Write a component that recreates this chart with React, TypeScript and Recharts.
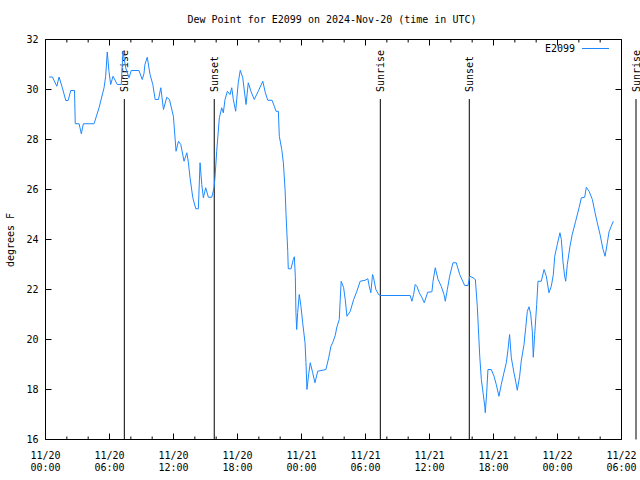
import React from "react";
import { LineChart, Line, XAxis, YAxis, ReferenceLine } from "recharts";

// hours since 2024-11-20 00:00 UTC
const hours = [
  0.34, 0.65, 1.06, 1.27, 1.58, 1.9, 2.12, 2.37, 2.72, 2.79, 3.15, 3.36, 3.55, 4.55, 5.02, 5.49, 5.64, 5.79, 5.95, 6.11,
  6.33, 6.73, 7.1, 7.26, 7.52, 7.83, 8.04, 8.76, 9.07, 9.23, 9.32, 9.54, 9.8, 10.06, 10.28, 10.59, 10.81, 11.06, 11.37, 11.62,
  11.99, 12.24, 12.46, 12.68, 12.99, 13.25, 13.4, 13.55, 13.81, 14.09, 14.33, 14.49, 14.65, 14.8, 15.02, 15.27, 15.59, 15.8, 15.89, 16.05,
  16.3, 16.52, 16.67, 16.83, 17.05, 17.3, 17.46, 17.61, 17.83, 18.07, 18.26, 18.49, 18.8, 19.01, 19.26, 19.57, 19.99, 20.37, 20.61, 20.84,
  21.24, 21.45, 21.61, 21.83, 21.92, 22.15, 22.3, 22.46, 22.55, 22.71, 22.76, 23.02, 23.23, 23.33, 23.42, 23.48, 23.55, 23.64, 23.79, 23.95,
  24.11, 24.33, 24.42, 24.51, 24.67, 24.82, 25.05, 25.26, 25.52, 26.29, 26.55, 26.76, 26.92, 27.16, 27.32, 27.54, 27.63, 27.72, 27.95, 28.1,
  28.26, 28.57, 28.89, 29.19, 29.5, 29.97, 30.22, 30.35, 30.5, 30.66, 30.76, 30.97, 31.23, 31.38, 34.19, 34.35, 34.51, 34.66, 34.82, 35.04,
  35.3, 35.51, 35.83, 36.23, 36.33, 36.54, 36.8, 37.1, 37.36, 37.48, 37.67, 37.89, 38.2, 38.51, 38.83, 39.3, 39.61, 39.77, 40.08, 40.3,
  40.48, 40.71, 40.86, 41.02, 41.18, 41.23, 41.36, 41.48, 41.79, 42.05, 42.26, 42.51, 42.73, 42.98, 43.2, 43.36, 43.51, 43.67, 43.92, 44.08,
  44.23, 44.45, 44.6, 44.86, 45.02, 45.17, 45.33, 45.49, 45.64, 45.73, 45.86, 46.05, 46.17, 46.48, 46.74, 46.95, 47.2, 47.42, 47.61, 47.74,
  47.98, 48.23, 48.36, 48.51, 48.67, 48.77, 48.92, 49.17, 49.38, 49.7, 50.02, 50.24, 50.55, 50.7, 50.96, 51.27, 51.49, 51.73, 51.99, 52.27,
  52.46, 52.67, 52.83, 53.04, 53.23,
];

const dewF = [
  30.5, 30.5, 30.13, 30.5, 30.07, 29.56, 29.56, 29.96, 29.96, 28.63, 28.63, 28.23, 28.63, 28.63, 29.27, 30.07, 30.53, 31.5, 30.73, 30.2,
  30.53, 30.2, 30.2, 31.53, 30.87, 30.47, 30.76, 30.76, 30.4, 30.63, 31.0, 31.29, 30.6, 30.2, 29.6, 29.6, 30.07, 29.2, 29.69, 29.6,
  28.93, 27.53, 27.93, 27.8, 27.13, 27.47, 27.07, 26.47, 25.67, 25.23, 25.23, 27.07, 26.2, 25.67, 26.07, 25.69, 25.69, 26.07, 26.48, 27.53,
  28.87, 29.27, 29.07, 29.6, 29.93, 29.8, 30.07, 29.6, 29.13, 30.27, 30.77, 30.47, 29.4, 30.27, 29.93, 29.6, 29.97, 30.33, 29.87, 29.57,
  29.57, 29.33, 29.13, 29.13, 28.13, 27.6, 27.07, 26.0, 25.0, 23.53, 22.83, 22.83, 23.2, 23.31, 22.53, 21.07, 20.4, 21.07, 21.8, 21.33,
  20.67, 19.87, 19.07, 18.0, 18.6, 19.07, 18.67, 18.27, 18.73, 18.8, 19.27, 19.73, 19.87, 20.16, 20.5, 20.8, 21.6, 22.33, 22.07, 21.6,
  20.93, 21.13, 21.6, 21.93, 22.33, 22.37, 22.43, 22.13, 21.87, 22.6, 22.47, 22.0, 21.8, 21.76, 21.76, 21.53, 21.8, 22.2, 22.13, 21.87,
  21.67, 21.47, 21.89, 21.91, 22.33, 22.87, 22.4, 22.13, 21.8, 21.53, 22.0, 22.53, 23.07, 23.07, 22.6, 22.16, 22.16, 22.53, 22.47, 22.4,
  21.33, 19.33, 18.4, 17.87, 17.33, 17.07, 17.87, 18.8, 18.8, 18.53, 18.2, 17.73, 18.2, 18.67, 19.07, 19.6, 20.2, 19.27, 18.67, 18.33,
  17.97, 18.53, 19.13, 19.8, 20.47, 21.13, 21.31, 21.0, 20.33, 19.29, 20.2, 21.4, 22.33, 22.33, 22.8, 22.53, 21.87, 22.13, 22.6, 23.33,
  23.8, 24.27, 24.0, 23.13, 22.53, 22.33, 23.0, 23.73, 24.2, 24.73, 25.27, 25.67, 25.69, 26.09, 25.93, 25.6, 25.13, 24.67, 24.2, 23.6,
  23.33, 23.87, 24.31, 24.53, 24.73,
];

const majorTicks = [0, 6, 12, 18, 24, 30, 36, 42, 48, 54];
const minorTicks = Array.from({ length: 28 }, (_, i) => i * 2);
const tickDates = ["11/20", "11/20", "11/20", "11/20", "11/21", "11/21", "11/21", "11/21", "11/22", "11/22"];
const tickTimes = ["00:00", "06:00", "12:00", "18:00", "00:00", "06:00", "12:00", "18:00", "00:00", "06:00"];
const yTicks = [16, 18, 20, 22, 24, 26, 28, 30, 32];

const sunHours = [7.39, 15.82, 31.39, 39.73, 55.36];
const sunLabels = ["Sunrise", "Sunset", "Sunrise", "Sunset", "Sunrise"];

const data = hours.map((t, i) => ({ t, dew: dewF[i] }));

const FONT = "'DejaVu Sans Mono', monospace";
const BLUE = "#1e88ff";

const BottomTick = (props: any) => {
  const { x, y, payload } = props;
  const idx = majorTicks.indexOf(payload.value);
  const major = idx >= 0;
  return (
    <g>
      <line x1={x} y1={y} x2={x} y2={y - (major ? 6 : 3)} stroke="#000" />
      {major && (
        <text x={x} y={y + 19} textAnchor="middle" fontSize={10} fontFamily={FONT} fill="#000">
          <tspan x={x}>{tickDates[idx]}</tspan>
          <tspan x={x} dy={12}>{tickTimes[idx]}</tspan>
        </text>
      )}
    </g>
  );
};

const TopTick = (props: any) => {
  const { x, y, payload } = props;
  const major = majorTicks.includes(payload.value);
  return <line x1={x} y1={y} x2={x} y2={y + (major ? 6 : 3)} stroke="#000" />;
};

const LeftTick = (props: any) => {
  const { x, y, payload } = props;
  return (
    <g>
      <line x1={x} y1={y} x2={x + 6} y2={y} stroke="#000" />
      <text x={x - 7} y={y} dy="0.35em" textAnchor="end" fontSize={10} fontFamily={FONT} fill="#000">
        {payload.value}
      </text>
    </g>
  );
};

const RightTick = (props: any) => {
  const { x, y } = props;
  return <line x1={x} y1={y} x2={x - 6} y2={y} stroke="#000" />;
};

const sunLabel = (text: string) => (props: any) => {
  const { viewBox } = props;
  const x = viewBox.x + 4;
  const y = viewBox.y - 7;
  return (
    <text x={x} y={y} transform={`rotate(-90 ${x} ${y})`} fontSize={10} fontFamily={FONT} fill="#000">
      {text}
    </text>
  );
};

export default function App() {
  return (
    <div style={{ position: "absolute", left: 0, top: 0, width: 640, height: 480, background: "#fff" }}>
      <LineChart
        width={640}
        height={480}
        data={data}
        margin={{ top: 38.5, right: 17.5, bottom: 39.5, left: 44.5 }}
      >
        <XAxis
          xAxisId="main"
          dataKey="t"
          type="number"
          domain={[0, 54]}
          allowDataOverflow
          ticks={minorTicks}
          interval={0}
          height={1}
          tickSize={0}
          tickMargin={0}
          tickLine={false}
          axisLine={{ stroke: "#000" }}
          tick={BottomTick}
        />
        <XAxis
          xAxisId="top"
          orientation="top"
          dataKey="t"
          type="number"
          domain={[0, 54]}
          allowDataOverflow
          ticks={minorTicks}
          interval={0}
          height={1}
          tickSize={0}
          tickMargin={0}
          tickLine={false}
          axisLine={{ stroke: "#000" }}
          tick={TopTick}
        />
        <YAxis
          yAxisId="left"
          type="number"
          domain={[16, 32]}
          allowDataOverflow
          ticks={yTicks}
          interval={0}
          width={1}
          tickSize={0}
          tickMargin={0}
          tickLine={false}
          axisLine={{ stroke: "#000" }}
          tick={LeftTick}
        />
        <YAxis
          yAxisId="right"
          orientation="right"
          type="number"
          domain={[16, 32]}
          allowDataOverflow
          ticks={yTicks}
          interval={0}
          width={1}
          tickSize={0}
          tickMargin={0}
          tickLine={false}
          axisLine={{ stroke: "#000" }}
          tick={RightTick}
        />
        {sunHours.map((h, i) => (
          <ReferenceLine
            key={`sun-${i}`}
            xAxisId="main"
            yAxisId="left"
            ifOverflow="visible"
            segment={[
              { x: h, y: 29.62 },
              { x: h, y: 16 },
            ]}
            stroke="#000"
            strokeWidth={1}
            label={sunLabel(sunLabels[i])}
          />
        ))}
        <Line
          xAxisId="main"
          yAxisId="left"
          type="linear"
          dataKey="dew"
          stroke={BLUE}
          strokeWidth={1}
          dot={false}
          activeDot={false}
          isAnimationActive={false}
        />
      </LineChart>
      <svg
        width={640}
        height={480}
        style={{ position: "absolute", left: 0, top: 0, pointerEvents: "none" }}
      >
        <text x={332} y={23} textAnchor="middle" fontSize={10} fontFamily={FONT} fill="#000">
          Dew Point for E2099 on 2024-Nov-20 (time in UTC)
        </text>
        <text
          x={14}
          y={240}
          transform="rotate(-90 14 240)"
          textAnchor="middle"
          fontSize={10}
          fontFamily={FONT}
          fill="#000"
        >
          degrees F
        </text>
        <text x={575} y={52} textAnchor="end" fontSize={10} fontFamily={FONT} fill="#000">
          E2099
        </text>
        <line x1={582} y1={48.5} x2={609} y2={48.5} stroke={BLUE} />
      </svg>
    </div>
  );
}
